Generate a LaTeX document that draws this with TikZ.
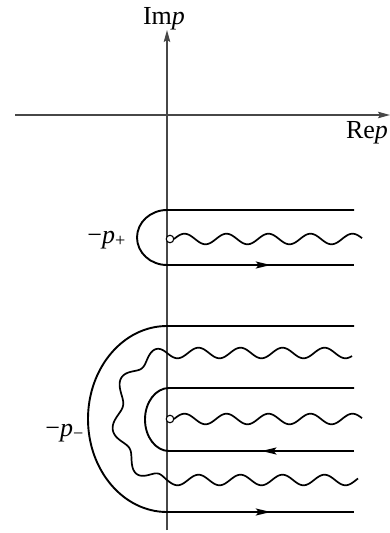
\documentclass[tikz,border=0pt]{standalone}
\usepackage{fontspec}
\setmainfont{Liberation Serif}
\usetikzlibrary{decorations.markings,arrows.meta}
\begin{document}
\begin{tikzpicture}[x=1pt,y=-1pt,
  axisline/.style={line width=1.4pt, draw=black!72, -{Stealth[length=12pt,width=6.5pt,inset=2pt]}},
  contour/.style={line width=1.9pt, draw=black},
  wavy/.style={line width=1.7pt, draw=black, line join=round},
  midarrow/.style={postaction={decorate}, decoration={markings,
    mark=at position #1 with {\arrow{Stealth[length=15pt,width=7pt,inset=3pt]}}}},
  lbl/.style={font=\fontsize{26}{28}\selectfont, inner sep=0pt},
  pole/.style={circle, draw=black, line width=1.1pt, fill=white, minimum size=7.5pt, inner sep=0pt}]
\useasboundingbox (0,0) rectangle (390,533);
% axes
\coordinate (xl) at (15,115);
\coordinate (xr) at (390,115);
\coordinate (yb) at (167,530);
\coordinate (yt) at (167,30);
\draw[axisline] (xl) -- (xr);
\draw[axisline] (yb) -- (yt);
\node[lbl, anchor=base] (imp) at (164,24) {Im\textit{p}};
\node[lbl, anchor=base] (rep) at (367,138) {Re\textit{p}};
% upper contour (around -p+)
\coordinate (ua) at (354,210);
\coordinate (ub) at (167,210);
\coordinate (uc) at (167,265);
\coordinate (ud) at (354,265);
\draw[contour] (ua) -- (ub) arc[start angle=270, end angle=90, x radius=30, y radius=27.5];
\draw[contour, midarrow=0.555] (uc) -- (ud);
\draw[wavy] plot[domain=174:362, samples=100, smooth] (\x, {239 - 5.3*sin(8.57*(\x-174))});
\node[pole] (pplus) at (170,239) {};
\node[lbl, anchor=base east] (lplus) at (126,243) {−\textit{p}\textsubscript{+}};
% lower outer contour
\coordinate (oa) at (354,326);
\coordinate (ob) at (167,326);
\coordinate (oc) at (167,512);
\coordinate (od) at (354,512);
\draw[contour] (oa) -- (ob) arc[start angle=270, end angle=90, x radius=79, y radius=93];
\draw[contour, midarrow=0.555] (oc) -- (od);
% inner contour
\coordinate (ia) at (354,388);
\coordinate (ib) at (169,388);
\coordinate (ic) at (169,451);
\coordinate (id) at (354,451);
\draw[contour] (ia) -- (ib) arc[start angle=270, end angle=90, x radius=24, y radius=31.5];
\draw[contour, midarrow=0.5] (id) -- (ic);
\draw[wavy] plot[domain=174:362, samples=100, smooth] (\x, {419 - 5.3*sin(8.57*(\x-174))});
\node[pole] (pminus) at (170,419) {};
% wavy cut around
\draw[wavy] plot[domain=0:185, samples=100, smooth] ({352-\x}, {353 - 5.3*sin(8.57*(\x-185))})
  -- plot[domain=0:180, samples=140, smooth] ({167 - (50 + 5.3*sin(8*\x))*sin(\x)}, {416.5 - (63.5 + 5.3*sin(8*\x))*cos(\x)})
  -- plot[domain=167:358, samples=100, smooth] (\x, {480 + 5.3*sin(8.57*(\x-167))});
\node[lbl, anchor=base east] (lminus) at (84,436) {−\textit{p}\textsubscript{−}};
\end{tikzpicture}
\end{document}
